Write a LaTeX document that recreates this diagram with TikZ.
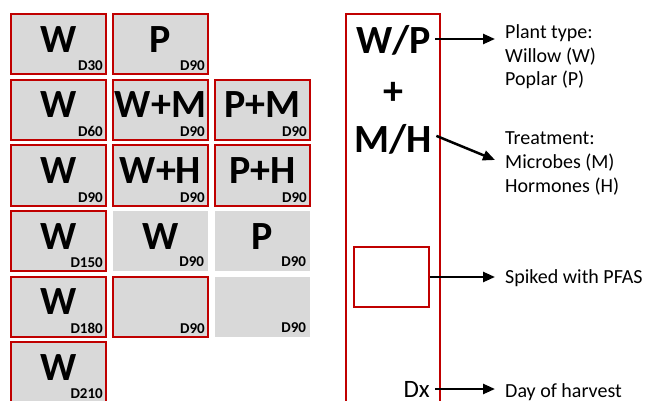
\documentclass[tikz,border=0pt]{standalone}
\usepackage{fontspec}
\setmainfont{Carlito}
\usetikzlibrary{arrows.meta,calc}
\definecolor{pfred}{HTML}{C00000}
\definecolor{cellgray}{HTML}{D9D9D9}
\tikzset{
  cell/.style={rectangle, fill=cellgray, minimum width=95pt, minimum height=60pt, inner sep=0pt},
  redrim/.style={draw=pfred, line width=2pt},
  norim/.style={draw=none},
  big/.style={font=\fontsize{40}{44}\selectfont\bfseries, inner sep=0pt},
  day/.style={font=\fontsize{15}{17}\selectfont\bfseries, inner sep=0pt},
  desc/.style={font=\fontsize{20}{23.6}\selectfont, align=left, inner sep=0pt, anchor=base west},
  arr/.style={line width=2.5pt, -{Triangle[length=12pt,width=10pt]}}
}
\begin{document}
\begin{tikzpicture}[x=1pt,y=-1pt]
\useasboundingbox (0,0) rectangle (648,401);
\clip (0,0) rectangle (648,401);
\fill[white] (0,0) rectangle (648,401);

% grid of treatment cells: column / row / plant label / harvest day / border
\foreach \c/\r/\t/\d/\s in {
  1/1/W/D30/redrim, 2/1/P/D90/redrim,
  1/2/W/D60/redrim, 2/2/W+M/D90/redrim, 3/2/P+M/D90/redrim,
  1/3/W/D90/redrim, 2/3/W+H/D90/redrim, 3/3/P+H/D90/redrim,
  1/4/W/D150/redrim, 2/4/W/D90/norim, 3/4/P/D90/norim,
  1/5/W/D180/redrim, 2/5/{}/D90/redrim, 3/5/{}/D90/norim,
  1/6/W/D210/redrim} {
  \node[cell,\s] (b\c\r) at ({10+(\c-1)*102+48.5},{13.5+(\r-1)*65.5+31}) {};
  \node[big, anchor=base] (t\c\r) at ($(b\c\r.north)+(0,39)$) {\t};
  \node[day, anchor=base east] (d\c\r) at ($(b\c\r.south east)+(-4,-4.5)$) {\d};
}

% legend column
\node[rectangle, draw=pfred, line width=2pt, minimum width=94pt, minimum height=406pt, inner sep=0pt] (key) at (393,217) {};
\node[big, anchor=base] (wp) at (393.5,54) {W/P};
\node[big] (plus) at (393.5,93) {+};
\node[big, anchor=base] (mh) at (393.5,153) {M/H};
\node[rectangle, draw=pfred, line width=2pt, minimum width=75pt, minimum height=60pt, inner sep=0pt] (spk) at (391.5,277) {};
\node[font=\fontsize{25}{28}\selectfont, inner sep=0pt, anchor=base east] (dx) at (430,397) {Dx};

% explanations (multi-line nodes sit on the baseline of their last line)
\node[desc] (ptype) at (505,86) {Plant type:\\Willow (W)\\Poplar (P)};
\node[desc] (treat) at (505,192) {Treatment:\\Microbes (M)\\Hormones (H)};
\node[desc] (spiked) at (505,283) {Spiked with PFAS};
\node[desc] (harvest) at (505,397) {Day of harvest};

\coordinate (p1) at (495,39);
\coordinate (p2) at (495,160);
\coordinate (p3) at (495,277);
\coordinate (p4) at (495,389);

\draw[arr] ($(wp.east |- p1)+(4,0)$) -- (p1);
\draw[arr] ($(mh.east)+(4,-4)$) -- (p2);
\draw[arr] (spk.east) -- (p3);
\draw[arr] ($(dx.east |- p4)+(5,0)$) -- (p4);
\end{tikzpicture}
\end{document}
